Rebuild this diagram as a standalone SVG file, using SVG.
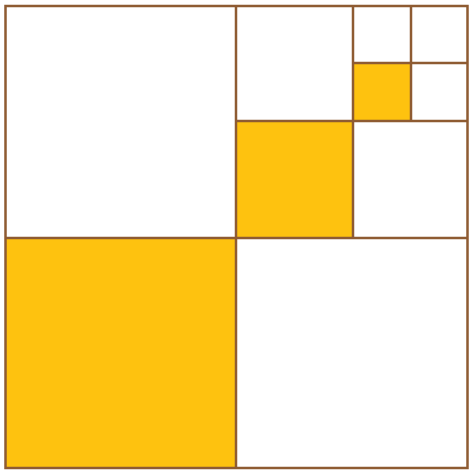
<svg xmlns="http://www.w3.org/2000/svg" width="470" height="472" viewBox="0 0 470 472">
<style>
.c{stroke:#8e5b32;stroke-width:2.5;}
.y{fill:#fec20f;}
.w{fill:#ffffff;}
</style>
<rect width="470" height="472" fill="#ffffff"/>
<g id="fills">
<rect class="y" x="5.5" y="238" width="230.5" height="230"/>
<rect class="y" x="236" y="121" width="117" height="117"/>
<rect class="y" x="353" y="63" width="58" height="58"/>
</g>
<g id="lines" class="c" fill="none">
<rect x="5.5" y="6" width="462" height="462"/>
<line x1="236" y1="6" x2="236" y2="468"/>
<line x1="5.5" y1="238" x2="467.5" y2="238"/>
<line x1="353" y1="6" x2="353" y2="238"/>
<line x1="236" y1="121" x2="467.5" y2="121"/>
<line x1="411" y1="6" x2="411" y2="121"/>
<line x1="353" y1="63" x2="467.5" y2="63"/>
</g>
</svg>
